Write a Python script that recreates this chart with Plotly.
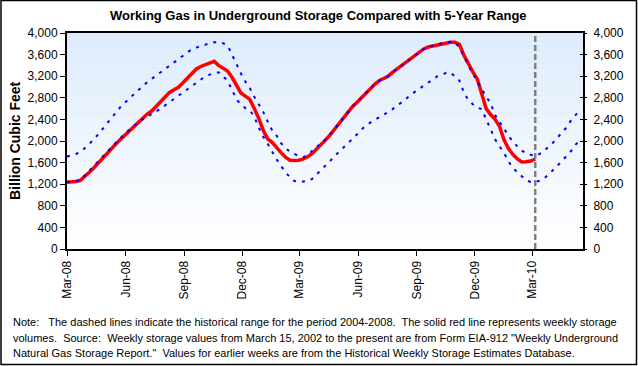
import plotly.graph_objects as go
import pandas as pd

# ---------------- data ----------------
start_date = "2008-03-01"

storage_2008_2010 = [
    1235, 1240, 1250, 1272, 1340, 1420, 1500, 1590, 1690, 1790,
    1870, 1950, 2030, 2110, 2190, 2270, 2350, 2430, 2500, 2555,
    2640, 2740, 2830, 2900, 2950, 2995, 3080, 3170, 3260, 3335,
    3380, 3415, 3440, 3475, 3400, 3340, 3295, 3180, 3030, 2890,
    2830, 2770, 2600, 2420, 2200, 2040, 1975, 1870, 1785, 1700,
    1645, 1640, 1645, 1670, 1710, 1770, 1850, 1930, 2020, 2115,
    2220, 2320, 2440, 2550, 2635, 2715, 2800, 2890, 2965, 3050,
    3115, 3165, 3200, 3270, 3330, 3395, 3455, 3520, 3580, 3640,
    3705, 3740, 3760, 3780, 3805, 3825, 3830, 3828, 3790, 3590,
    3420, 3280, 3150, 2900, 2600, 2490, 2400, 2270, 2020, 1860,
    1750, 1670, 1612, 1615, 1628, 1667,
]

range_max = [
    1710, 1730, 1760, 1800, 1870, 1940, 2040, 2120, 2225, 2330,
    2430, 2530, 2630, 2710, 2790, 2860, 2945, 3020, 3090, 3150,
    3210, 3270, 3330, 3390, 3460, 3520, 3580, 3640, 3700, 3730,
    3760, 3790, 3810, 3830, 3830, 3810, 3770, 3600, 3420, 3250,
    3100, 2980, 2820, 2690, 2540, 2360, 2200, 2100, 1960, 1870,
    1800, 1760, 1720, 1700, 1740, 1820, 1890, 1960, 2030, 2120,
    2225, 2325, 2440, 2550, 2635, 2715, 2800, 2890, 2965, 3050,
    3115, 3165, 3200, 3270, 3330, 3395, 3455, 3520, 3580, 3640,
    3705, 3740, 3760, 3785, 3810, 3830, 3835, 3820, 3740, 3560,
    3400, 3250, 3100, 2960, 2820, 2700, 2480, 2350, 2220, 2090,
    1980, 1900, 1820, 1770, 1740, 1720, 1760, 1820, 1890, 1970,
    2060, 2140, 2250, 2380, 2480, 2570,
]

range_min = [
    1240, 1245, 1255, 1275, 1360, 1440, 1535, 1620, 1710, 1800,
    1890, 1960, 2060, 2140, 2210, 2280, 2345, 2400, 2450, 2490,
    2550, 2600, 2660, 2720, 2780, 2840, 2905, 2960, 3020, 3080,
    3140, 3195, 3230, 3260, 3270, 3200, 3120, 2950, 2770, 2680,
    2610, 2570, 2450, 2250, 2080, 1950, 1790, 1660, 1540, 1420,
    1330, 1260, 1240, 1245, 1260, 1300, 1380, 1460, 1540, 1630,
    1720, 1800, 1880, 1950, 2040, 2120, 2210, 2285, 2340, 2395,
    2440, 2485, 2530, 2590, 2650, 2710, 2780, 2845, 2910, 2970,
    3030, 3090, 3150, 3195, 3230, 3260, 3270, 3200, 3120, 2900,
    2760, 2680, 2620, 2590, 2400, 2200, 2030, 1900, 1780, 1620,
    1500, 1420, 1340, 1270, 1240, 1245, 1265, 1310, 1380, 1460,
    1550, 1630, 1720, 1810, 1930, 2010,
]

tick_dates = ["2008-03-01", "2008-06-01", "2008-09-01", "2008-12-01", "2009-03-01",
              "2009-06-01", "2009-09-01", "2009-12-01", "2010-03-01"]
tick_labels = ["Mar-08", "Jun-08", "Sep-08", "Dec-08", "Mar-09",
               "Jun-09", "Sep-09", "Dec-09", "Mar-10"]
y_ticks = [0, 400, 800, 1200, 1600, 2000, 2400, 2800, 3200, 3600, 4000]

title_text = "Working Gas in Underground Storage Compared with 5-Year Range"
y_title = "Billion Cubic Feet"
note_lines = [
    "Note:   The dashed lines indicate the historical range for the period 2004-2008.  The solid red line represents weekly storage",
    "volumes.  Source:  Weekly storage values from March 15, 2002 to the present are from Form EIA-912 \"Weekly Underground",
    "Natural Gas Storage Report.\"  Values for earlier weeks are from the Historical Weekly Storage Estimates Database.",
]

# ---------------- layout geometry ----------------
W, H = 638, 366
L, R, T, B = 67, 55, 33, 117
PW, PH = W - L - R, H - T - B


def px(xp):
    return (xp - L) / PW


def py(yp):
    return (H - B - yp) / PH


dates_range = pd.date_range(start=start_date, periods=len(range_max), freq="7D")
dates_actual = dates_range[:len(storage_2008_2010)]
last_date = dates_actual[-1]

FONT = "Arial, Liberation Sans, sans-serif"

fig = go.Figure()

fig.add_trace(go.Scatter(x=dates_actual, y=storage_2008_2010, mode="lines",
                         line=dict(color="#FF0000", width=3.5), hoverinfo="skip",
                         showlegend=False))
fig.add_trace(go.Scatter(x=dates_range, y=range_max, mode="lines",
                         line=dict(color="#0000FF", width=2, dash="3px,6px"),
                         hoverinfo="skip", showlegend=False))
fig.add_trace(go.Scatter(x=dates_range, y=range_min, mode="lines",
                         line=dict(color="#0000FF", width=2, dash="3px,6px"),
                         hoverinfo="skip", showlegend=False))
# dummy traces to activate right-hand axes
fig.add_trace(go.Scatter(x=[dates_range[0]], y=[0], yaxis="y2", mode="markers",
                         marker=dict(opacity=0), hoverinfo="skip", showlegend=False))
fig.add_trace(go.Scatter(x=[dates_range[0]], y=[0], yaxis="y3", mode="markers",
                         marker=dict(opacity=0), hoverinfo="skip", showlegend=False))

shapes = []
# gradient plot background
n = 40
for k in range(n):
    f = k / (n - 1)
    r = int(round(255 - (255 - 221) * f))
    g = int(round(255 - (255 - 235) * f))
    b = int(round(255 - (255 - 251) * f))
    shapes.append(dict(type="rect", xref="paper", yref="paper",
                       x0=0, x1=1, y0=k / n, y1=(k + 1) / n,
                       fillcolor=f"rgb({r},{g},{b})", line=dict(width=0), layer="below"))
# vertical dashed line at latest week
shapes.append(dict(type="line", xref="x", yref="paper", x0=last_date, x1=last_date,
                   y0=0, y1=1, line=dict(color="#808080", width=2.5, dash="6px,3px")))
# outer border
shapes.append(dict(type="rect", xref="paper", yref="paper",
                   x0=px(1), x1=px(W - 1.5), y0=py(H - 1.5), y1=py(0.5),
                   line=dict(color="black", width=1.5), fillcolor="rgba(0,0,0,0)"))

annotations = [
    dict(text=f"<b>{title_text}</b>", x=px(318), y=py(16), xref="paper", yref="paper",
         xanchor="center", yanchor="middle", showarrow=False,
         font=dict(family=FONT, size=13, color="black")),
    dict(text=f"<b>{y_title}</b>", x=px(15), y=py(141), xref="paper", yref="paper",
         xanchor="center", yanchor="middle", showarrow=False, textangle=-90,
         font=dict(family=FONT, size=14, color="black")),
]
for j, line in enumerate(note_lines):
    annotations.append(dict(text=line, x=px(11), y=py(322 + 15.5 * j), xref="paper",
                            yref="paper", xanchor="left", yanchor="middle",
                            showarrow=False,
                            font=dict(family=FONT, size=11, color="black")))

yaxis_common = dict(range=[0, 4000], tickvals=y_ticks, tickformat=",",
                    showgrid=False, zeroline=False,
                    tickfont=dict(family=FONT, size=12, color="black"))

fig.update_layout(
    width=W, height=H,
    margin=dict(l=L, r=R, t=T, b=B),
    paper_bgcolor="white", plot_bgcolor="rgba(0,0,0,0)",
    showlegend=False,
    xaxis=dict(type="date", range=["2008-03-01", "2010-05-20"],
               tickvals=tick_dates, ticktext=tick_labels, tickangle=-90,
               ticks="outside", ticklen=5, tickwidth=1, tickcolor="black",
               showline=True, linecolor="black", linewidth=2, mirror=True,
               showgrid=False, zeroline=False,
               tickfont=dict(family=FONT, size=12, color="black")),
    yaxis=dict(**yaxis_common, ticks="outside", ticklen=5, tickwidth=1, tickcolor="black",
               showline=True, linecolor="black", linewidth=2, mirror=True),
    yaxis2=dict(**yaxis_common, overlaying="y", side="right", ticks="outside",
                ticklen=3, tickwidth=1, tickcolor="black", showline=False,
                ticklabelstandoff=4),
    yaxis3=dict(range=[0, 4000], tickvals=y_ticks, overlaying="y", side="right",
                ticks="inside", ticklen=3, tickwidth=1, tickcolor="black",
                showticklabels=False, showline=False, showgrid=False, zeroline=False),
    shapes=shapes,
    annotations=annotations,
)

fig.write_html("out.html", config={"displayModeBar": False},
               post_script="document.body.style.margin='0';")
